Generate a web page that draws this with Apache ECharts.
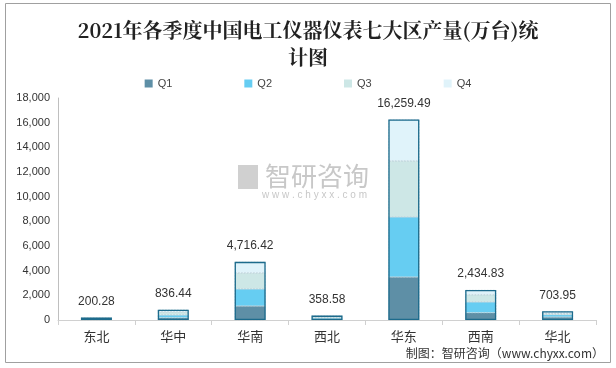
<!DOCTYPE html>
<html><head><meta charset="utf-8">
<script src="https://cdn.jsdelivr.net/npm/echarts@6/dist/echarts.min.js"></script>
<style>html,body{margin:0;padding:0;background:#fff}#c{width:616px;height:368px}</style>
</head><body><div id="c"></div>
<script>
const categories = ['东北','华中','华南','西北','华东','西南','华北'];
const q1 = [50, 190, 1135, 90, 3487, 592, 243];
const q2 = [60, 215, 1379, 100, 4866, 868, 190];
const q3 = [50, 245, 1297, 90, 4542, 592, 110];
const q4 = [40.28, 186.44, 905.42, 78.58, 3364.49, 382.83, 160.95];
const totals = [200.28, 836.44, 4716.42, 358.58, 16259.49, 2434.83, 703.95];
const seriesNames = ['Q1','Q2','Q3','Q4'];
const colors = ['#5e8fa6','#66cdf2','#cde7e6','#e0f3fa'];

const chart = echarts.init(document.getElementById('c'));
const fmt = v => Number(v).toLocaleString('en-US',{minimumFractionDigits:2,maximumFractionDigits:2});
const stackData = [q1,q2,q3,q4];
const series = stackData.map((d,i)=>({
  name: seriesNames[i], type:'bar', stack:'all', data:d, barWidth:31,
  itemStyle:{color:colors[i], borderColor:'#a9c2cc', borderWidth:0.5, borderType:'dashed'}
}));
series.push({
  name:'合计', type:'bar', data:totals, barWidth:31, barGap:'-100%', z:5,
  itemStyle:{color:'rgba(0,0,0,0)', borderColor:'#1d6b8c', borderWidth:1.3},
  label:{show:true, position:'top', distance:10, color:'#333', fontSize:12, fontFamily:'Arial, Liberation Sans', formatter:p=>fmt(p.value)},
  silent:true, legendHoverLink:false
});
chart.setOption({
  animation:false,
  backgroundColor:'#fff',
  title:{text:'2021年各季度中国电工仪器仪表七大区产量(万台)统\n计图', left:'center', top:12,
    textStyle:{fontSize:20, fontWeight:'bold', color:'#222', lineHeight:27, fontFamily:'Noto Serif CJK SC, serif, Noto Sans CJK SC'}},
  legend:{data:seriesNames.map(n=>({name:n, itemStyle:{borderWidth:0}})), top:73, left:'center', itemWidth:8, itemHeight:8, itemGap:72, icon:'rect',
    textStyle:{color:'#444', fontSize:11, fontFamily:'Arial, Liberation Sans'}},
  grid:{left:58, right:20, top:98, bottom:48},
  xAxis:{type:'category', data:categories,
    axisLine:{lineStyle:{color:'#d0d0d0'}}, axisTick:{show:true, length:5, lineStyle:{color:'#d0d0d0'}},
    axisLabel:{color:'#333', fontSize:13, margin:10, fontFamily:'Noto Sans CJK SC'}},
  yAxis:{type:'value', min:0, max:18000, interval:2000,
    axisLine:{show:true, lineStyle:{color:'#bfbfbf'}}, axisTick:{show:false}, splitLine:{show:false},
    axisLabel:{color:'#333', fontSize:11, margin:8, fontFamily:'Arial, Liberation Sans', formatter:v=>v.toLocaleString('en-US')}},
  graphic:[
    {type:'rect', shape:{x:5.5,y:3.5,width:605,height:359}, style:{fill:null, stroke:'#a0a0a0', lineWidth:1}, silent:true, z:-1},
    {type:'text', left:265, top:163, style:{text:'智研咨询', fill:'#c8c8c8', font:'26px "Noto Sans CJK SC"'}, z:-1},
    {type:'text', left:262, top:190, style:{text:'w w w . c h y x x . c o m', fill:'#c8c8c8', font:'10px Arial'}, z:-1},
    {type:'rect', shape:{x:238,y:165,width:20,height:24}, style:{fill:'#d0d0d0'}, z:-1},
    {type:'text', right:12, top:347, style:{text:'制图：智研咨询（www.chyxx.com）', fill:'#333', font:'12px "Noto Sans CJK SC"'}}
  ],
  series:series
});
</script></body></html>
